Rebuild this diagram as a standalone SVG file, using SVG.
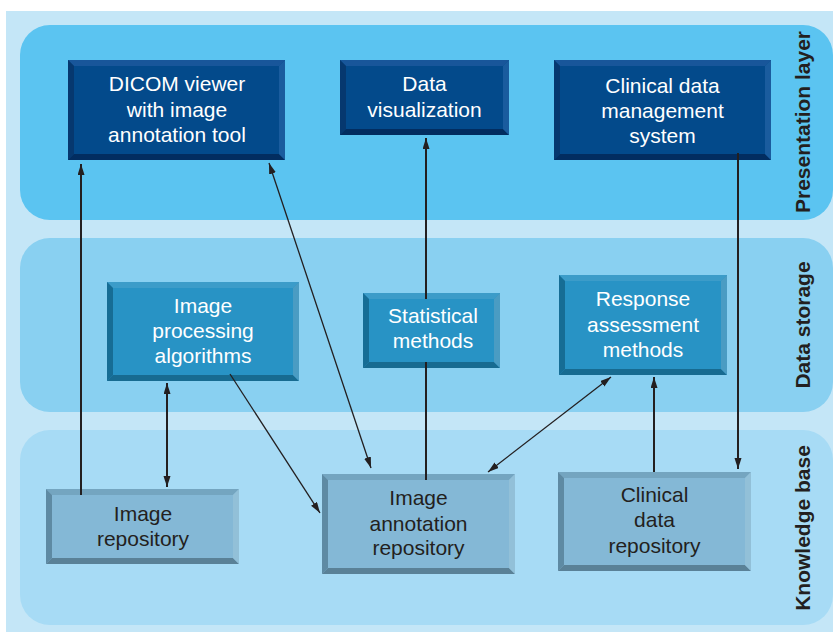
<svg xmlns="http://www.w3.org/2000/svg" width="833" height="632" viewBox="0 0 833 632">
  <style>
    .lbl { font-family: "Liberation Sans", Arial, sans-serif; font-size: 21px; text-anchor: middle; }
    .w { fill: #ffffff; }
    .k { fill: #231f20; }
    .layer-title { font-family: "Liberation Sans", Arial, sans-serif; font-size: 21px; font-weight: bold; fill: #231f20; text-anchor: middle; }
    .conn { stroke: #231f20; fill: none; }
    .thick { stroke-width: 2; }
    .thin { stroke-width: 1.3; }
  </style>
  <defs>
    <marker id="arrow" markerUnits="userSpaceOnUse" markerWidth="12" markerHeight="8" refX="11" refY="3.5" orient="auto-start-reverse" viewBox="0 0 12 8">
      <path d="M0,0 L11,3.5 L0,7 z" fill="#231f20"/>
    </marker>
  </defs>

  <!-- background and layer bands -->
  <rect x="0" y="0" width="833" height="632" fill="#ffffff"/>
  <rect x="6" y="11" width="827" height="621" fill="#c4e6f7"/>
  <g id="layer-presentation">
    <rect x="20" y="25" width="813" height="195" rx="30" fill="#5bc4f1"/>
    <text class="layer-title" transform="translate(810,122) rotate(-90)">Presentation layer</text>
  </g>
  <g id="layer-storage">
    <rect x="20" y="238" width="813" height="174" rx="30" fill="#89d0f1"/>
    <text class="layer-title" transform="translate(810,325) rotate(-90)">Data storage</text>
  </g>
  <g id="layer-knowledge">
    <rect x="20" y="430" width="813" height="195" rx="30" fill="#a7dbf5"/>
    <text class="layer-title" transform="translate(810,528) rotate(-90)">Knowledge base</text>
  </g>

  <!-- presentation layer nodes (dark bevelled boxes) -->
  <g id="dicom-viewer">
    <rect x="68" y="60" width="217" height="100" fill="#034a8b"/>
    <polygon points="68,60 285,60 279,66 74,66" fill="#18569a"/>
    <polygon points="68,60 74,66 74,154 68,160" fill="#06386f"/>
    <polygon points="68,160 74,154 279,154 285,160" fill="#022d60"/>
    <polygon points="285,60 285,160 279,154 279,66" fill="#1a5c9e"/>
    <text class="lbl w" x="177" y="91">DICOM viewer</text>
    <text class="lbl w" x="177" y="116.5">with image</text>
    <text class="lbl w" x="177" y="142">annotation tool</text>
  </g>
  <g id="data-visualization">
    <rect x="340" y="60" width="169" height="75" fill="#034a8b"/>
    <polygon points="340,60 509,60 503,66 346,66" fill="#18569a"/>
    <polygon points="340,60 346,66 346,129 340,135" fill="#06386f"/>
    <polygon points="340,135 346,129 503,129 509,135" fill="#022d60"/>
    <polygon points="509,60 509,135 503,129 503,66" fill="#1a5c9e"/>
    <text class="lbl w" x="424.5" y="91">Data</text>
    <text class="lbl w" x="424.5" y="116.5">visualization</text>
  </g>
  <g id="clinical-data-management">
    <rect x="554" y="60" width="217" height="100" fill="#034a8b"/>
    <polygon points="554,60 771,60 765,66 560,66" fill="#18569a"/>
    <polygon points="554,60 560,66 560,154 554,160" fill="#06386f"/>
    <polygon points="554,160 560,154 765,154 771,160" fill="#022d60"/>
    <polygon points="771,60 771,160 765,154 765,66" fill="#1a5c9e"/>
    <text class="lbl w" x="662.5" y="93">Clinical data</text>
    <text class="lbl w" x="662.5" y="118">management</text>
    <text class="lbl w" x="662.5" y="143">system</text>
  </g>

  <!-- data storage nodes (medium bevelled boxes) -->
  <g id="image-processing">
    <rect x="107" y="282" width="192" height="99" fill="#2893c5"/>
    <polygon points="107,282 299,282 293,288 113,288" fill="#3c9cc9"/>
    <polygon points="107,282 113,288 113,375 107,381" fill="#166d95"/>
    <polygon points="107,381 113,375 293,375 299,381" fill="#176b91"/>
    <polygon points="299,282 299,381 293,375 293,288" fill="#4a9cc3"/>
    <text class="lbl w" x="203" y="313">Image</text>
    <text class="lbl w" x="203" y="338">processing</text>
    <text class="lbl w" x="203" y="363">algorithms</text>
  </g>
  <g id="statistical-methods">
    <rect x="363" y="293" width="137" height="75" fill="#2893c5"/>
    <polygon points="363,293 500,293 494,299 369,299" fill="#3c9cc9"/>
    <polygon points="363,293 369,299 369,362 363,368" fill="#166d95"/>
    <polygon points="363,368 369,362 494,362 500,368" fill="#176b91"/>
    <polygon points="500,293 500,368 494,362 494,299" fill="#4a9cc3"/>
    <text class="lbl w" x="433" y="323">Statistical</text>
    <text class="lbl w" x="433" y="348">methods</text>
  </g>
  <g id="response-assessment">
    <rect x="559" y="275" width="168" height="100" fill="#2893c5"/>
    <polygon points="559,275 727,275 721,281 565,281" fill="#3c9cc9"/>
    <polygon points="559,275 565,281 565,369 559,375" fill="#166d95"/>
    <polygon points="559,375 565,369 721,369 727,375" fill="#176b91"/>
    <polygon points="727,275 727,375 721,369 721,281" fill="#4a9cc3"/>
    <text class="lbl w" x="643" y="306">Response</text>
    <text class="lbl w" x="643" y="332">assessment</text>
    <text class="lbl w" x="643" y="357">methods</text>
  </g>

  <!-- knowledge base nodes (light bevelled boxes) -->
  <g id="image-repository">
    <rect x="46" y="489" width="193" height="75" fill="#84b8d6"/>
    <polygon points="46,489 239,489 233,495 52,495" fill="#74a5c0"/>
    <polygon points="46,489 52,495 52,558 46,564" fill="#5e8aa3"/>
    <polygon points="46,564 52,558 233,558 239,564" fill="#5a8197"/>
    <polygon points="239,489 239,564 233,558 233,495" fill="#92c0d8"/>
    <text class="lbl k" x="143" y="521">Image</text>
    <text class="lbl k" x="143" y="546">repository</text>
  </g>
  <g id="image-annotation-repository">
    <rect x="322" y="474" width="193" height="100" fill="#84b8d6"/>
    <polygon points="322,474 515,474 509,480 328,480" fill="#74a5c0"/>
    <polygon points="322,474 328,480 328,568 322,574" fill="#5e8aa3"/>
    <polygon points="322,574 328,568 509,568 515,574" fill="#5a8197"/>
    <polygon points="515,474 515,574 509,568 509,480" fill="#92c0d8"/>
    <text class="lbl k" x="418.5" y="505">Image</text>
    <text class="lbl k" x="418.5" y="531">annotation</text>
    <text class="lbl k" x="418.5" y="555">repository</text>
  </g>
  <g id="clinical-data-repository">
    <rect x="558" y="472" width="193" height="99" fill="#84b8d6"/>
    <polygon points="558,472 751,472 745,478 564,478" fill="#74a5c0"/>
    <polygon points="558,472 564,478 564,565 558,571" fill="#5e8aa3"/>
    <polygon points="558,571 564,565 745,565 751,571" fill="#5a8197"/>
    <polygon points="751,472 751,571 745,565 745,478" fill="#92c0d8"/>
    <text class="lbl k" x="654.5" y="502">Clinical</text>
    <text class="lbl k" x="654.5" y="527">data</text>
    <text class="lbl k" x="654.5" y="553">repository</text>
  </g>

  <!-- connectors -->
  <g id="connectors">
    <line class="conn thick" x1="81" y1="495" x2="81" y2="164" marker-end="url(#arrow)"/>
    <line class="conn thin" x1="269" y1="163" x2="371" y2="468" marker-start="url(#arrow)" marker-end="url(#arrow)"/>
    <path class="conn thick" d="M426,480 V362 M426,299 V138" marker-end="url(#arrow)"/>
    <line class="conn thick" x1="738" y1="153" x2="738" y2="469" marker-end="url(#arrow)"/>
    <line class="conn thick" x1="167" y1="383" x2="167" y2="487" marker-start="url(#arrow)" marker-end="url(#arrow)"/>
    <line class="conn thin" x1="230" y1="374" x2="320" y2="513" marker-end="url(#arrow)"/>
    <line class="conn thin" x1="488" y1="472" x2="611" y2="377" marker-start="url(#arrow)" marker-end="url(#arrow)"/>
    <line class="conn thick" x1="654" y1="472" x2="654" y2="377" marker-end="url(#arrow)"/>
  </g>
</svg>
